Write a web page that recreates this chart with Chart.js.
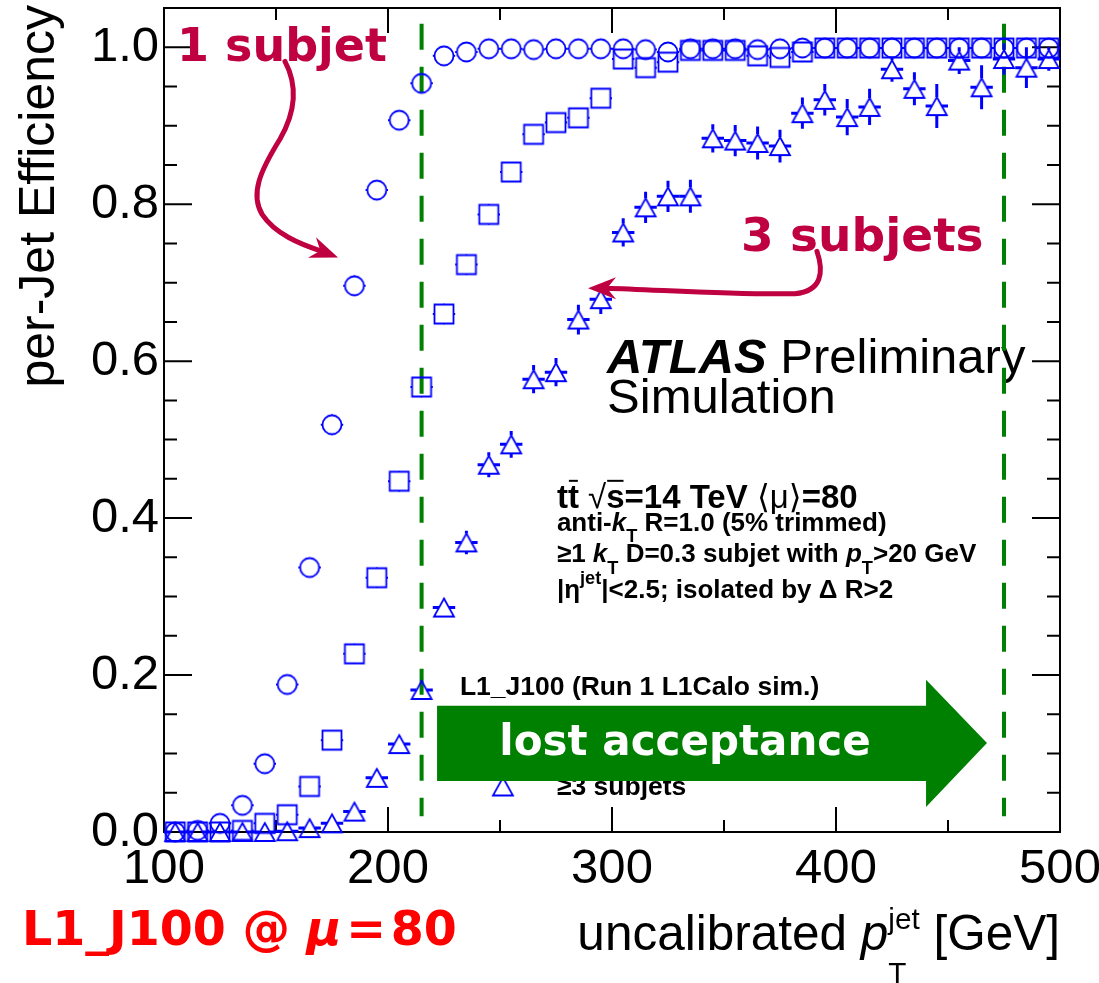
<!DOCTYPE html>
<html>
<head>
<meta charset="utf-8">
<title>per-Jet Efficiency vs uncalibrated jet pT</title>
<script src="https://cdn.jsdelivr.net/npm/chart.js@4.4.1/dist/chart.umd.min.js"></script>
<style>
  html, body { margin: 0; padding: 0; background: #fff; }
  canvas { display: block; }
</style>
</head>
<body>
<canvas id="effChart" width="1099" height="983"></canvas>
<script>
// jet pT bin centres [GeV], bins are 10 GeV wide
const binCentres = [105, 115, 125, 135, 145, 155, 165, 175, 185, 195,
                    205, 215, 225, 235, 245, 255, 265, 275, 285, 295,
                    305, 315, 325, 335, 345, 355, 365, 375, 385, 395,
                    405, 415, 425, 435, 445, 455, 465, 475, 485, 495];
const binHalfWidth = 5;

// L1_J100 efficiency for jets with 1, 2 and >=3 subjets
const eff1Subjet = [0.000, 0.002, 0.011, 0.034, 0.087, 0.188, 0.337, 0.519, 0.696, 0.818,
                    0.907, 0.954, 0.989, 0.994, 0.998, 0.998, 0.997, 0.998, 0.998, 0.998,
                    0.998, 0.997, 0.994, 0.998, 0.998, 0.998, 0.997, 0.998, 0.999, 0.999,
                    0.999, 0.999, 0.999, 0.999, 0.999, 0.999, 0.999, 0.999, 0.999, 0.999];
const err1Subjet = [0.002, 0.003, 0.004, 0.006, 0.008, 0.010, 0.012, 0.013, 0.013, 0.012,
                    0.010, 0.008, 0.004, 0.003, 0.002, 0.002, 0.002, 0.002, 0.002, 0.002,
                    0.002, 0.002, 0.003, 0.002, 0.002, 0.002, 0.002, 0.002, 0.002, 0.002,
                    0.002, 0.002, 0.002, 0.002, 0.002, 0.002, 0.002, 0.002, 0.002, 0.002];

const eff2Subjets = [0.000, 0.000, 0.000, 0.002, 0.011, 0.022, 0.058, 0.117, 0.227, 0.324,
                     0.447, 0.567, 0.660, 0.723, 0.787, 0.841, 0.889, 0.904, 0.910, 0.935,
                     0.985, 0.974, 0.981, 0.996, 0.996, 0.996, 0.989, 0.987, 0.994, 0.999,
                     0.999, 0.999, 0.999, 0.999, 0.999, 0.999, 0.999, 0.999, 0.999, 0.999];
const err2Subjets = [0.002, 0.002, 0.003, 0.004, 0.006, 0.008, 0.010, 0.012, 0.013, 0.013,
                     0.013, 0.013, 0.013, 0.013, 0.013, 0.012, 0.011, 0.010, 0.010, 0.009,
                     0.006, 0.007, 0.006, 0.003, 0.003, 0.003, 0.005, 0.005, 0.004, 0.002,
                     0.002, 0.002, 0.002, 0.002, 0.002, 0.002, 0.002, 0.002, 0.002, 0.002];

const eff3Subjets = [0.000, 0.000, 0.000, 0.000, 0.000, 0.001, 0.005, 0.011, 0.026, 0.069,
                     0.112, 0.181, 0.286, 0.369, 0.468, 0.494, 0.577, 0.586, 0.653, 0.679,
                     0.764, 0.796, 0.810, 0.810, 0.884, 0.881, 0.878, 0.874, 0.916, 0.933,
                     0.911, 0.924, 0.972, 0.947, 0.925, 0.983, 0.949, 0.985, 0.974, 0.985];
const err3Subjets = [0.005, 0.005, 0.005, 0.005, 0.005, 0.006, 0.007, 0.008, 0.009, 0.010,
                     0.011, 0.012, 0.012, 0.015, 0.016, 0.017, 0.018, 0.018, 0.019, 0.019,
                     0.018, 0.020, 0.020, 0.021, 0.018, 0.020, 0.021, 0.021, 0.020, 0.020,
                     0.023, 0.023, 0.016, 0.021, 0.028, 0.017, 0.028, 0.020, 0.026, 0.015];

const xTickValues = [100, 200, 300, 400, 500];
const yTickValues = [0, 0.2, 0.4, 0.6, 0.8, 1.0];

// trigger acceptance window edges [GeV]
const acceptanceEdges = [215, 475];

const BLUE = '#0000ff';
const GREEN = '#008000';
const CRIMSON = 'rgb(191,0,65)';
const SANS = "'Liberation Sans', 'DejaVu Sans', sans-serif";
const DEJAVU = "'DejaVu Sans', sans-serif";

// open ROOT-style markers, drawn once and used as point styles
function makeMarker(shape) {
  const c = document.createElement('canvas');
  c.width = c.height = 26;
  const g = c.getContext('2d');
  g.strokeStyle = BLUE;
  g.lineWidth = 1.8;
  g.beginPath();
  if (shape === 'circle') g.arc(13, 13, 9.5, 0, Math.PI * 2);
  else if (shape === 'square') g.rect(3.5, 3.5, 19, 19);
  else { g.moveTo(13, 4); g.lineTo(23, 22); g.lineTo(3, 22); g.closePath(); }
  g.stroke();
  return c;
}

const series = [
  { label: '1 subjet',   values: eff1Subjet,  errors: err1Subjet,  marker: makeMarker('circle'),   gapX: 9.5, gapY: 9.5, lw: 2 },
  { label: '2 subjets',  values: eff2Subjets, errors: err2Subjets, marker: makeMarker('square'),   gapX: 9.5, gapY: 9.5, lw: 2 },
  { label: '≥3 subjets', values: eff3Subjets, errors: err3Subjets, marker: makeMarker('triangle'), gapX: 5,   gapY: 9,   lw: 3 }
];

// data -> canvas pixels
function at(chart, gev, eff) {
  return [chart.scales.x.getPixelForValue(gev), chart.scales.y.getPixelForValue(eff)];
}

// a run of text with italic / subscript / superscript / overbar pieces
function richText(ctx, x, y, parts, o) {
  const items = [];
  let pen = 0, prevStart = 0;
  for (const p of parts) {
    const small = p.sub || p.sup;
    const size = small ? o.size * (o.small || 0.7) : o.size;
    const font = (p.italic ? 'italic ' : '') + (p.weight || o.weight || 'normal') + ' ' + size + 'px ' + (p.family || o.family);
    ctx.font = font;
    const w = ctx.measureText(p.t).width;
    const start = p.stack ? prevStart : pen;
    const dy = p.sub ? o.size * (o.subDy || 0.35) : p.sup ? -o.size * (o.supDy || 0.45) : 0;
    items.push({ p, font, start, w, size, dy });
    if (!p.stack) prevStart = start;
    pen = Math.max(pen, start + w);
  }
  const x0 = o.align === 'right' ? x - pen : o.align === 'center' ? x - pen / 2 : x;
  ctx.save();
  ctx.fillStyle = ctx.strokeStyle = o.color || '#000';
  ctx.textAlign = 'left';
  ctx.textBaseline = 'alphabetic';
  for (const it of items) {
    ctx.font = it.font;
    ctx.fillText(it.p.t, x0 + it.start, y + it.dy);
    if (it.p.bar) {
      ctx.lineWidth = 2;
      ctx.beginPath();
      ctx.moveTo(x0 + it.start + 1, y - it.size * 0.82);
      ctx.lineTo(x0 + it.start + it.w - 1, y - it.size * 0.82);
      ctx.stroke();
    }
  }
  ctx.restore();
}

// curved arrow: bezier segments in data units, head pointing at tip
function curvedArrow(chart, start, segs, tip, color) {
  const ctx = chart.ctx;
  const s = at(chart, ...start);
  ctx.save();
  ctx.strokeStyle = ctx.fillStyle = color;
  ctx.lineWidth = 5;
  ctx.lineCap = 'round';
  ctx.beginPath();
  ctx.moveTo(s[0], s[1]);
  let last = s;
  for (const seg of segs) {
    const a = at(chart, ...seg[0]), b = at(chart, ...seg[1]), c = at(chart, ...seg[2]);
    ctx.bezierCurveTo(a[0], a[1], b[0], b[1], c[0], c[1]);
    last = c;
  }
  ctx.stroke();
  const t = at(chart, ...tip);
  const dx = t[0] - last[0], dy = t[1] - last[1], len = Math.hypot(dx, dy);
  const ux = dx / len, uy = dy / len, nx = -uy, ny = ux;
  ctx.beginPath();
  ctx.moveTo(t[0], t[1]);
  ctx.lineTo(t[0] - ux * 28 + nx * 11, t[1] - uy * 28 + ny * 11);
  ctx.lineTo(t[0] - ux * 19, t[1] - uy * 19);
  ctx.lineTo(t[0] - ux * 28 - nx * 11, t[1] - uy * 28 - ny * 11);
  ctx.closePath();
  ctx.fill();
  ctx.restore();
}

// frame with inward ticks on all four sides
const framePlugin = {
  id: 'frame',
  beforeDatasetsDraw(chart) {
    const { ctx, chartArea: a, scales: { x, y } } = chart;
    ctx.save();
    ctx.strokeStyle = '#000';
    ctx.lineWidth = 2;
    ctx.strokeRect(a.left, a.top, a.right - a.left, a.bottom - a.top);
    ctx.beginPath();
    for (let v = 100; v <= 500; v += 50) {
      const len = v % 100 === 0 ? 25 : 12;
      const p = x.getPixelForValue(v);
      ctx.moveTo(p, a.bottom); ctx.lineTo(p, a.bottom - len);
      ctx.moveTo(p, a.top); ctx.lineTo(p, a.top + len);
    }
    for (let k = 0; k <= 20; k++) {
      const len = k % 4 === 0 ? 28 : 13;
      const p = y.getPixelForValue(k * 0.05);
      ctx.moveTo(a.left, p); ctx.lineTo(a.left + len, p);
      ctx.moveTo(a.right, p); ctx.lineTo(a.right - len, p);
    }
    ctx.stroke();
    ctx.restore();

    // experiment label and selection text
    let [px, py] = at(chart, 297.8, 0.5855);
    richText(ctx, px, py, [
      { t: 'ATLAS', italic: true, weight: 'bold' },
      { t: ' Preliminary' }
    ], { size: 49, family: SANS });
    [px, py] = at(chart, 297.8, 0.534);
    richText(ctx, px, py, [{ t: 'Simulation' }], { size: 49, family: SANS });

    [px, py] = at(chart, 275.4, 0.413);
    richText(ctx, px, py, [
      { t: 't' }, { t: 't', bar: true }, { t: ' ' },
      { t: '√', weight: 'normal' }, { t: 's', bar: true },
      { t: '=14 TeV ' }, { t: '⟨μ⟩', weight: 'normal' }, { t: '=80' }
    ], { size: 33, weight: 'bold', family: SANS });
    [px, py] = at(chart, 275.4, 0.383);
    richText(ctx, px, py, [
      { t: 'anti-' }, { t: 'k', italic: true }, { t: 'T', sub: true }, { t: ' R=1.0 (5% trimmed)' }
    ], { size: 26, weight: 'bold', family: SANS, subDy: 0.4 });
    [px, py] = at(chart, 275.4, 0.344);
    richText(ctx, px, py, [
      { t: '≥1 ' }, { t: 'k', italic: true }, { t: 'T', sub: true },
      { t: ' D=0.3 subjet with ' }, { t: 'p', italic: true }, { t: 'T', sub: true }, { t: '>20 GeV' }
    ], { size: 26, weight: 'bold', family: SANS, subDy: 0.45 });
    [px, py] = at(chart, 275.4, 0.298);
    richText(ctx, px, py, [
      { t: '|η' }, { t: 'jet', sup: true }, { t: '|<2.5; isolated by Δ R>2' }
    ], { size: 26, weight: 'bold', family: SANS, supDy: 0.55 });

    // acceptance window edges
    ctx.save();
    ctx.strokeStyle = GREEN;
    ctx.lineWidth = 4;
    ctx.setLineDash([26, 17]);
    for (const e of acceptanceEdges) {
      const top = at(chart, e, 1.03), bot = at(chart, e, 0.02);
      ctx.beginPath();
      ctx.moveTo(top[0], top[1]);
      ctx.lineTo(bot[0], bot[1]);
      ctx.stroke();
    }
    ctx.restore();
  }
};

// x bin widths and statistical errors, kept outside the open markers
const errorBarPlugin = {
  id: 'errorBars',
  beforeDatasetsDraw(chart) {
    const { ctx, scales: { x, y } } = chart;
    ctx.save();
    ctx.strokeStyle = BLUE;
    for (const s of series) {
      ctx.lineWidth = s.lw;
      binCentres.forEach((c, i) => {
        const px = x.getPixelForValue(c), py = y.getPixelForValue(s.values[i]);
        const xl = x.getPixelForValue(c - binHalfWidth), xr = x.getPixelForValue(c + binHalfWidth);
        const yt = y.getPixelForValue(s.values[i] + s.errors[i]);
        const yb = y.getPixelForValue(s.values[i] - s.errors[i]);
        ctx.beginPath();
        if (px - xl > s.gapX) {
          ctx.moveTo(xl, py); ctx.lineTo(px - s.gapX, py);
          ctx.moveTo(px + s.gapX, py); ctx.lineTo(xr, py);
        }
        if (py - yt > s.gapY) { ctx.moveTo(px, yt); ctx.lineTo(px, py - s.gapY); }
        if (yb - py > s.gapY) { ctx.moveTo(px, py + s.gapY); ctx.lineTo(px, yb); }
        ctx.stroke();
      });
    }
    ctx.restore();
  }
};

// arrows, legend, lost-acceptance banner and axis titles
const annotationPlugin = {
  id: 'annotations',
  afterDatasetsDraw(chart) {
    const ctx = chart.ctx;

    // "1 subjet" label and arrow
    let [px, py] = at(chart, 105.8, 0.982);
    richText(ctx, px, py, [{ t: '1 subjet' }], { size: 46, weight: 'bold', family: DEJAVU, color: CRIMSON });
    curvedArrow(chart, [154.0, 0.982], [
      [[159.4, 0.953], [159.4, 0.921], [151.8, 0.883]],
      [[142.9, 0.842], [138.4, 0.813], [143.8, 0.787]],
      [[149.6, 0.762], [160.7, 0.749], [170.5, 0.740]]
    ], [177.7, 0.732], CRIMSON);

    // "3 subjets" label and arrow
    [px, py] = at(chart, 357.6, 0.740);
    richText(ctx, px, py, [{ t: '3 subjets' }], { size: 47, weight: 'bold', family: DEJAVU, color: CRIMSON });
    curvedArrow(chart, [391.5, 0.740], [
      [[394.6, 0.714], [393.8, 0.689], [381.7, 0.686]],
      [[357.1, 0.684], [321.4, 0.691], [297.3, 0.693]]
    ], [289.3, 0.693], CRIMSON);

    // legend
    [px, py] = at(chart, 232.1, 0.175);
    richText(ctx, px, py, [{ t: 'L1_J100 (Run 1 L1Calo sim.)' }], { size: 26.5, weight: 'bold', family: SANS });
    const rows = [0.142, 0.100, 0.058];
    series.forEach((s, i) => {
      const m = at(chart, 251.3, rows[i]);
      ctx.drawImage(s.marker, m[0] - 13, m[1] - 13);
      const t = at(chart, 275.4, rows[i]);
      richText(ctx, t[0], t[1] + 9, [{ t: s.label }], { size: 26.5, weight: 'bold', family: SANS });
    });

    // lost acceptance banner
    const poly = [[221.9, 0.161], [440.2, 0.161], [440.2, 0.194], [467.4, 0.1135],
                  [440.2, 0.032], [440.2, 0.065], [221.9, 0.065]];
    ctx.save();
    ctx.fillStyle = GREEN;
    ctx.beginPath();
    poly.forEach((p, i) => {
      const q = at(chart, p[0], p[1]);
      if (i === 0) ctx.moveTo(q[0], q[1]); else ctx.lineTo(q[0], q[1]);
    });
    ctx.closePath();
    ctx.fill();
    ctx.restore();
    [px, py] = at(chart, 332.6, 0.098);
    richText(ctx, px, py, [{ t: 'lost acceptance' }], { size: 42, weight: 'bold', family: DEJAVU, color: '#fff', align: 'center' });

    // axis titles
    ctx.save();
    ctx.translate(54, 5);
    ctx.rotate(-Math.PI / 2);
    ctx.font = '50px ' + SANS;
    ctx.fillStyle = '#000';
    ctx.textAlign = 'right';
    ctx.textBaseline = 'alphabetic';
    ctx.fillText('per-Jet Efficiency', 0, 0);
    ctx.restore();
    richText(ctx, 1060, 950, [
      { t: 'uncalibrated ' }, { t: 'p', italic: true }, { t: 'T', sub: true },
      { t: 'jet', sup: true, stack: true }, { t: ' [GeV]' }
    ], { size: 49.5, family: SANS, align: 'right', small: 0.6, subDy: 0.66, supDy: 0.42 });

    // trigger / pile-up tag
    richText(ctx, 22, 945, [
      { t: 'L1_J100 @ ' }, { t: 'μ', italic: true }, { t: '\u200a=\u200a80' }
    ], { size: 47.5, weight: 'bold', family: DEJAVU, color: '#ff0000' });
  }
};

new Chart(document.getElementById('effChart'), {
  type: 'scatter',
  data: {
    datasets: series.map(s => ({
      label: s.label,
      data: binCentres.map((c, i) => ({ x: c, y: s.values[i] })),
      pointStyle: s.marker,
      pointRadius: 13,
      pointHoverRadius: 13,
      showLine: false,
      clip: false
    }))
  },
  options: {
    responsive: false,
    animation: false,
    devicePixelRatio: 1,
    layout: { autoPadding: false, padding: { top: 8, right: 39, left: 0, bottom: 0 } },
    plugins: { legend: { display: false }, tooltip: { enabled: false } },
    scales: {
      x: {
        type: 'linear',
        min: 100,
        max: 500,
        afterBuildTicks: s => { s.ticks = xTickValues.map(v => ({ value: v })); },
        // fixed axis band; tick labels may run past the frame ends
        afterFit: s => { s.height = 151; s.paddingLeft = 0; s.paddingRight = 0; },
        grid: { display: false, drawTicks: false },
        border: { display: false },
        ticks: {
          autoSkip: false,
          maxRotation: 0,
          padding: 8,
          color: '#000',
          font: { family: SANS, size: 49 },
          callback: v => String(v)
        }
      },
      y: {
        type: 'linear',
        min: 0,
        max: 1.05,
        afterBuildTicks: s => { s.ticks = yTickValues.map(v => ({ value: v })); },
        afterFit: s => { s.width = 164; s.paddingTop = 0; s.paddingBottom = 0; },
        grid: { display: false, drawTicks: false },
        border: { display: false },
        ticks: {
          padding: 5,
          color: '#000',
          font: { family: SANS, size: 49 },
          callback: v => v.toFixed(1)
        }
      }
    }
  },
  plugins: [framePlugin, errorBarPlugin, annotationPlugin]
});
</script>
</body>
</html>
